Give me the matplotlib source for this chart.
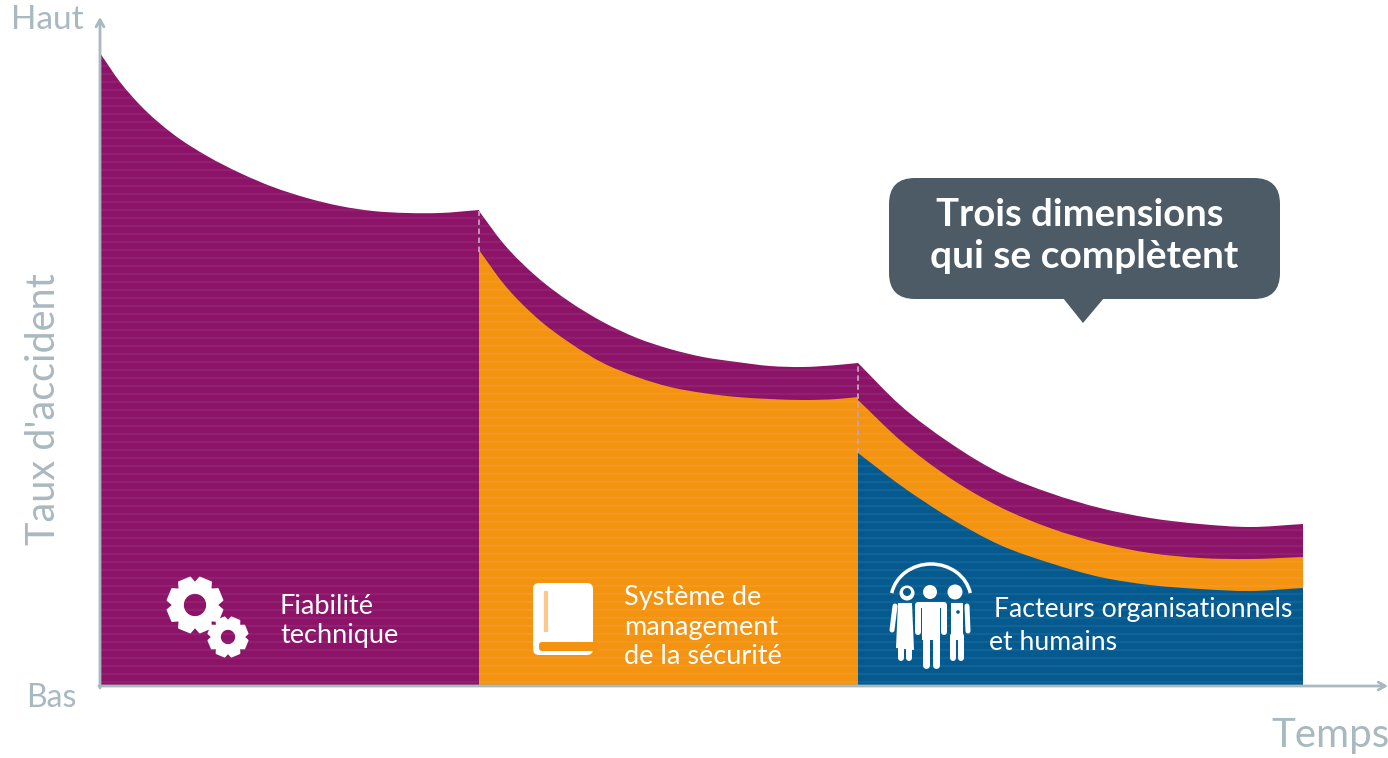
#!/usr/bin/python3
import numpy as np
import matplotlib
matplotlib.use('Agg')
import matplotlib.pyplot as plt
from matplotlib.patches import FancyBboxPatch, Polygon, Circle, Arc, PathPatch
from matplotlib.path import Path

W, H = 1388, 758

plt.rcParams['font.family'] = ['Lato', 'DejaVu Sans']

PURPLE = '#8c1368'
ORANGE = '#f39310'
BLUE = '#045a8f'
GREY = '#a9b9c0'
DARK = '#4c5b65'

# time and rate values
t_phase1 = [0, 20, 40, 73, 107, 140, 173, 207, 240, 273, 307, 340, 379]
top_phase1 = [633, 604, 581, 552, 530, 513, 499, 488, 480, 475, 473, 473, 476]

t_phase2 = [379, 403, 437, 470, 503, 537, 570, 603, 637, 670, 703, 737, 758]
top_phase2 = [475, 443, 409, 384, 364, 348, 337, 329, 324, 320, 319, 321, 323]
orange_phase2 = [436, 403, 368, 343, 323, 309, 299, 293, 289, 287, 286, 287, 289]

t_phase3 = [758, 800, 850, 900, 950, 1000, 1050, 1100, 1150, 1203]
top_phase3 = [323, 281, 243, 213, 193, 178, 168, 162, 159, 162]
orange_phase3 = [286, 246, 208, 179, 158, 143, 133, 128, 127, 129]
blue_phase3 = [233, 201, 168, 141, 123, 109, 101, 97, 95, 98]

labels_phase = ['Fiabilité\ntechnique', 'Système de\nmanagement\nde la sécurité',
                'Facteurs organisationnels', 'et humains']


def area_path(t, r):
    # closed area under a smooth curve through the read points
    slopes = np.gradient(np.array(r, float), np.array(t, float))
    verts = [(t[0], 0), (t[0], r[0])]
    codes = [Path.MOVETO, Path.LINETO]
    for i in range(len(t) - 1):
        dt = (t[i + 1] - t[i]) / 3
        verts += [(t[i] + dt, r[i] + slopes[i] * dt), (t[i + 1] - dt, r[i + 1] - slopes[i + 1] * dt), (t[i + 1], r[i + 1])]
        codes += [Path.CURVE4] * 3
    verts += [(t[-1], 0), (t[0], 0)]
    codes += [Path.LINETO, Path.CLOSEPOLY]
    return Path(verts, codes)


def gear(cx, cy, r_out, r_in, r_hole, teeth=8):
    pts = []
    step = 2 * np.pi / teeth
    for i in range(teeth):
        a = i * step + step / 2
        for da, r in [(-0.5, r_in), (-0.28, r_out), (0.28, r_out), (0.5, r_in)]:
            pts.append((cx + r * np.cos(a + da * step), cy + r * np.sin(a + da * step)))
    ang = np.linspace(0, -2 * np.pi, 40)
    hole = [(cx + r_hole * np.cos(x), cy + r_hole * np.sin(x)) for x in ang]
    verts = pts + [pts[0]] + hole
    codes = [Path.MOVETO] + [Path.LINETO] * (len(pts) - 1) + [Path.CLOSEPOLY]
    codes += [Path.MOVETO] + [Path.LINETO] * (len(hole) - 1)
    return PathPatch(Path(verts, codes), fc='white', ec='white', lw=1.2, joinstyle='round', zorder=6)


def limb(ov, x0, y0, x1, y1, width):
    ov.plot([x0, x1], [y0, y1], color='white', lw=width * 0.72, solid_capstyle='round', zorder=6)


fig = plt.figure(figsize=(W / 100, H / 100), dpi=100)
ax = fig.add_axes([100 / W, (H - 686) / H, 1203 / W, 666 / H])
ax.set_xlim(0, 1203)
ax.set_ylim(0, 666)
ax.axis('off')

layers = [(t_phase1, top_phase1, PURPLE), (t_phase2, top_phase2, PURPLE), (t_phase3, top_phase3, PURPLE),
          (t_phase2, orange_phase2, ORANGE), (t_phase3, orange_phase3, ORANGE), (t_phase3, blue_phase3, BLUE)]
for t, r, c in layers:
    ax.add_patch(PathPatch(area_path(t, r), fc=c, ec='none', lw=0))

# dashed step lines between the phases
ax.plot([t_phase2[0]] * 2, [orange_phase2[0] - 2, top_phase2[0]], color='#c2a0c4', lw=1.3, ls=(0, (3, 2)))
ax.plot([t_phase3[0]] * 2, [blue_phase3[0], top_phase3[0]], color='#c2a0c4', lw=1.3, ls=(0, (3, 2)))

# faint woven stripes over the whole shape
for t, r in [(t_phase1, top_phase1), (t_phase2, top_phase2), (t_phase3, top_phase3)]:
    shape = PathPatch(area_path(t, r), transform=ax.transData, fc='none', ec='none')
    ax.add_patch(shape)
    stripes = ax.hlines(np.arange(4, 640, 8), 0, 1203, color='white', alpha=0.06, lw=1.6)
    stripes.set_clip_path(shape)

# overlay in pixel space for the axes arrows, icons and labels
ov = fig.add_axes([0, 0, 1, 1], facecolor='none')
ov.set_xlim(0, W)
ov.set_ylim(H, 0)
ov.axis('off')

ov.annotate('', xy=(100, 17), xytext=(100, 688),
            arrowprops=dict(arrowstyle='->,head_width=0.28,head_length=0.5', color=GREY, lw=2, shrinkA=0, shrinkB=0))
ov.annotate('', xy=(1388, 686), xytext=(99, 686),
            arrowprops=dict(arrowstyle='->,head_width=0.28,head_length=0.5', color=GREY, lw=2, shrinkA=0, shrinkB=0))

ov.text(47, 20, 'Haut', color=GREY, fontsize=24, ha='center', va='center')
ov.text(51, 698, 'Bas', color=GREY, fontsize=23, ha='center', va='center')
ov.text(44, 409, "Taux d'accident", color=GREY, fontsize=28.5, rotation=90, ha='center', va='center')
ov.text(1331, 736, 'Temps', color=GREY, fontsize=29, ha='center', va='center')

# speech bubble
ov.add_patch(FancyBboxPatch((889, 178), 391, 121, boxstyle='round,pad=0,rounding_size=26', fc=DARK, ec='none', zorder=5))
ov.add_patch(Polygon([(1063, 298), (1104, 298), (1083, 323)], fc=DARK, ec='none', zorder=5))
ov.text(1080, 215, 'Trois dimensions', color='white', fontsize=27.5, fontweight='bold', ha='center', va='center', zorder=6)
ov.text(1084, 256, 'qui se complètent', color='white', fontsize=28, fontweight='bold', ha='center', va='center', zorder=6)

# gears
ov.add_patch(gear(195, 605, 28, 22, 12))
ov.add_patch(gear(228, 637, 20, 16, 8))
ov.text(280, 621, labels_phase[0], color='white', fontsize=19.5, ha='left', va='center', linespacing=1.25, zorder=6)

# book
ov.add_patch(FancyBboxPatch((533, 583), 60, 72, boxstyle='round,pad=0,rounding_size=6', fc='white', ec='none', zorder=6))
ov.plot([546, 546], [593, 630], color='#f8c98a', lw=3, zorder=7)
ov.add_patch(FancyBboxPatch((539, 642), 60, 9, boxstyle='round,pad=0,rounding_size=3', fc=ORANGE, ec='none', zorder=7))
ov.text(624, 627, labels_phase[1], color='white', fontsize=19.5, ha='left', va='center', linespacing=1.25, zorder=6)

# people under an arc
ov.add_patch(Arc((931, 600), 80, 72, theta1=190, theta2=350, color='white', lw=2.5, zorder=6))
# left figure
ov.add_patch(Circle((907, 593), 7.5, fc='white', ec='none', zorder=6))
ov.add_patch(Circle((907, 592), 4, fc=BLUE, ec='none', zorder=7))
ov.add_patch(Polygon([(898, 603), (912, 603), (914, 650), (896, 648)], fc='white', ec='none', zorder=6))
limb(ov, 895, 606, 892, 630, 5)
limb(ov, 901, 648, 901, 658, 6)
limb(ov, 909, 648, 909, 658, 6)
# centre figure
ov.add_patch(Circle((930, 592), 7, fc='white', ec='none', zorder=6))
ov.add_patch(Polygon([(922, 602), (940, 602), (940, 640), (922, 640)], fc='white', ec='none', zorder=6))
limb(ov, 918, 606, 918, 632, 6)
limb(ov, 944, 606, 944, 632, 6)
limb(ov, 918, 605, 944, 605, 6)
limb(ov, 926, 636, 926, 665, 7)
limb(ov, 936, 636, 936, 665, 7)
# right figure
ov.add_patch(Circle((955, 592), 7.5, fc='white', ec='none', zorder=6))
ov.add_patch(Polygon([(951, 603), (963, 603), (963, 640), (951, 640)], fc='white', ec='none', zorder=6))
limb(ov, 967, 606, 968, 631, 5)
limb(ov, 953, 636, 953, 658, 6)
limb(ov, 961, 636, 961, 658, 6)
ov.add_patch(Circle((958, 612), 1.8, fc=BLUE, ec='none', zorder=7))

ov.text(994, 609, labels_phase[2], color='white', fontsize=19.2, ha='left', va='center', zorder=6)
ov.text(989, 642, labels_phase[3], color='white', fontsize=19.2, ha='left', va='center', zorder=6)

plt.savefig('out.png', dpi=100)
